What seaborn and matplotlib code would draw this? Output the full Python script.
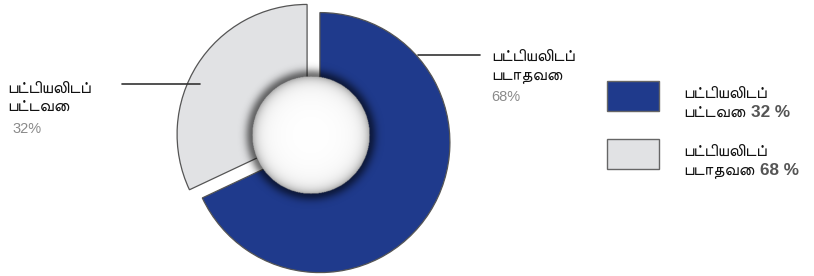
import numpy as np
import matplotlib
matplotlib.use("Agg")
import matplotlib.pyplot as plt
import seaborn as sns
from matplotlib.patches import Rectangle

# ---- data ----
categories = ["பட்டியலிடப்\nபடாதவை", "பட்டியலிடப்\nபட்டவை"]
values = [68, 32]
colors = ["#1f3a8c", "#e1e2e4"]
legend_labels = ["பட்டியலிடப்\nபட்டவை", "பட்டியலிடப்\nபடாதவை"]
legend_values = ["32 %", "68 %"]
legend_colors = ["#1f3a8c", "#e1e2e4"]

sns.set_theme(style="white")
TAM = ["FreeSans", "DejaVu Sans"]
NUM = ["Liberation Sans", "DejaVu Sans"]
plt.rcParams["font.family"] = TAM

W, H = 814, 276
S = 130.0  # pixels per data unit
fig = plt.figure(figsize=(W / 100, H / 100), dpi=100)
ax = fig.add_axes([0, 0, 1, 1])

def P(x, y):
    return x / S, (H - y) / S

cx, cy = P(313.5, 138.5)
ax.pie(values, colors=colors, startangle=90, counterclock=False,
       explode=[7.6 / S, 7.6 / S], radius=1.0, center=(cx, cy),
       wedgeprops=dict(edgecolor="#555555", linewidth=0.9), frame=True)
ax.set_xlim(0, W / S)
ax.set_ylim(0, H / S)
ax.set_aspect("equal")
ax.axis("off")

# hole with shadow
hx, hy = P(310.5, 134.5)
R = 59.0
half = 80
n = 321
g = np.linspace(-half, half, n)
X, Y = np.meshgrid(g, g)
r = np.sqrt(X ** 2 + Y ** 2)
img = np.zeros((n, n, 4))
inside = r <= R
shade = 1 - 0.30 * np.exp(-(R - r) / 5.0) - 0.04 * (r / R) ** 2
shade = np.clip(shade, 0, 1)
for k in range(3):
    img[..., k] = np.where(inside, shade, 0.0)
alpha_out = 0.55 * np.exp(-((r - R) / 7.0) ** 2)
img[..., 3] = np.where(inside, 1.0, alpha_out)
ax.imshow(img, extent=[hx - half / S, hx + half / S, hy - half / S, hy + half / S],
          origin="lower", zorder=5, interpolation="bilinear")
ax.set_xlim(0, W / S)
ax.set_ylim(0, H / S)

# leader lines
ax.plot(*zip(P(122, 84), P(200, 84)), color="#333333", lw=1.2, zorder=6)
ax.plot(*zip(P(418, 55), P(480, 55)), color="#333333", lw=1.2, zorder=6)

# choose Tamil font size so that the first word is ~84 px wide
fig.canvas.draw()
probe = ax.text(0, 0, "பட்டியலிடப்", fontsize=10, family=TAM)
wpx = probe.get_window_extent(renderer=fig.canvas.get_renderer()).width
probe.remove()
fs = 10 * 84.0 / wpx

tc = "#111111"
gc = "#8a8a8a"

def tam(x, y, s):
    return ax.text(*P(x, y), s, ha="left", va="baseline", fontsize=fs, color=tc,
                   family=TAM, zorder=7)

# left label (grey slice)
l1, l2 = categories[1].split("\n")
tam(7, 93, l1)
tam(7, 111, l2)
ax.text(*P(12, 133), f"{values[1]}%", ha="left", va="baseline", fontsize=10.5,
        color=gc, family=NUM)
# right label (blue slice)
l1, l2 = categories[0].split("\n")
tam(491, 61, l1)
tam(491, 80, l2)
ax.text(*P(491, 101), f"{values[0]}%", ha="left", va="baseline", fontsize=10.5,
        color=gc, family=NUM)

# legend
renderer = fig.canvas.get_renderer()
inv = ax.transData.inverted()
for i, (lab, val, col) in enumerate(zip(legend_labels, legend_values, legend_colors)):
    dy = i * 58
    x0, y_ = P(607, 111 + dy)
    ax.add_patch(Rectangle((x0, y_), 52 / S, 30 / S, facecolor=col,
                           edgecolor="#666666", lw=1.0, zorder=6))
    a, b = lab.split("\n")
    base1 = 98 + dy
    base2 = 117 + dy
    tam(683, base1, a)
    t = tam(683, base2, b)
    bb = t.get_window_extent(renderer=renderer)
    xe = inv.transform((bb.x1, bb.y0))[0] + 6 / S
    ax.text(xe, P(0, base2)[1], val, ha="left", va="baseline", fontsize=12.3,
            color="#555555", fontweight="bold", family=NUM, zorder=7)

fig.savefig("out.png", dpi=100)
